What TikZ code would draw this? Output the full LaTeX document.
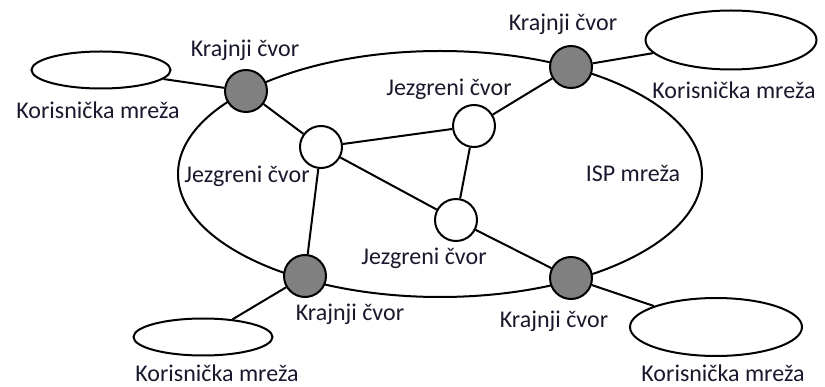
\documentclass[tikz,border=0pt]{standalone}
\usepackage{fontspec}
\setmainfont{Carlito}
\usetikzlibrary{shapes.geometric}
\definecolor{tekst}{RGB}{25,25,45}

\begin{document}
\begin{tikzpicture}
[x = 1pt, y = -1pt, 
link/.style = {line width = 2pt}, 
krajnji/.style = {circle, draw, fill = black!50, line width = 2pt, minimum size = 42pt, inner sep = 0pt}, 
jezgreni/.style = {circle, draw, fill = white, line width = 2pt, minimum size = 42pt, inner sep = 0pt}, 
korisnicka/.style = {ellipse, draw, fill = white, line width = 2pt, inner sep = 0pt}, 
natpis/.style = {text = tekst, font = \fontsize{24}{28}\selectfont, inner sep = 0pt}]

\useasboundingbox (0, 0) rectangle (825, 387);

% ISP mreza
\node[ellipse, draw, line width = 2pt, minimum width = 524pt, minimum height = 246pt] (isp) at (440, 174) {};

% korisnicke mreze
\node[korisnicka, minimum width = 139pt, minimum height = 37pt] (user nw) at (101, 70) {};
\node[korisnicka, minimum width = 171pt, minimum height = 59pt] (user ne) at (731, 40) {};
\node[korisnicka, minimum width = 139pt, minimum height = 37pt] (user sw) at (203, 337) {};
\node[korisnicka, minimum width = 172pt, minimum height = 58pt] (user se) at (716, 327) {};

% jezgreni cvorovi
\node[jezgreni] (core w) at (321, 147) {};
\node[jezgreni] (core ne) at (474, 126) {}
edge[link] (core w);
\node[jezgreni] (core s) at (456, 220) {}
edge[link] (core w)
edge[link] (core ne);

% krajnji cvorovi
\node[krajnji] (edge nw) at (246, 91) {}
edge[link] (user nw)
edge[link] (core w);
\node[krajnji] (edge ne) at (571, 67) {}
edge[link] (user ne)
edge[link] (core ne);
\node[krajnji] (edge sw) at (305, 276) {}
edge[link] (user sw)
edge[link] (core w);
\node[krajnji] (edge se) at (571, 278) {}
edge[link] (user se)
edge[link] (core s);

% natpisi
\node[natpis] (label edge nw) at (245, 50) {Krajnji čvor};
\node[natpis] (label edge ne) at (563, 24) {Krajnji čvor};
\node[natpis] (label edge sw) at (350, 314) {Krajnji čvor};
\node[natpis] (label edge se) at (554, 321) {Krajnji čvor};
\node[natpis] (label core w) at (247, 176) {Jezgreni čvor};
\node[natpis] (label core ne) at (449, 89) {Jezgreni čvor};
\node[natpis] (label core s) at (424, 258) {Jezgreni čvor};
\node[natpis] (label user nw) at (98, 110) {Korisnička mreža};
\node[natpis] (label user ne) at (734, 90) {Korisnička mreža};
\node[natpis] (label user sw) at (217, 373) {Korisnička mreža};
\node[natpis] (label user se) at (723, 373) {Korisnička mreža};
\node[natpis] (label isp) at (633, 173) {ISP mreža};
\end{tikzpicture}
\end{document}
